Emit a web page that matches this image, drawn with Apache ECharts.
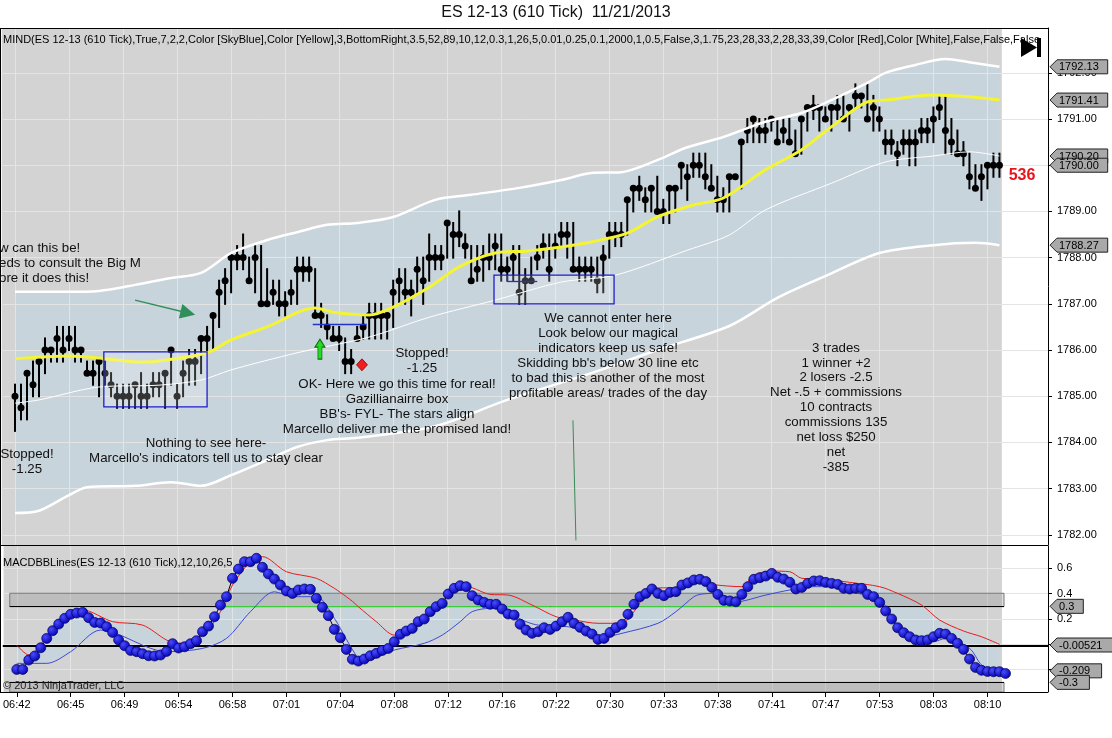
<!DOCTYPE html>
<html><head><meta charset="utf-8">
<script src="https://cdn.jsdelivr.net/npm/echarts@6/dist/echarts.min.js"></script>
<style>html,body{margin:0;padding:0;background:#fff}#c{width:1112px;height:738px}</style>
</head><body><div id="c"></div>
<script>
// ---------------- DATA ----------------
const timeLabels = ['06:42','06:45','06:49','06:54','06:58','07:01','07:04','07:08','07:12','07:16','07:22','07:30','07:33','07:38','07:41','07:47','07:53','08:03','08:10'];

const closes = [
1785.00,1784.75,1785.50,1785.25,1785.75,1786.00,1786.00,1786.25,1786.00,1786.25,
1786.00,1786.00,1785.50,1785.50,1785.75,1785.50,1785.25,1785.00,1785.00,1785.00,
1785.25,1785.00,1785.00,1785.25,1785.25,1785.50,1786.00,1785.00,1785.50,1785.75,
1785.75,1786.25,1786.25,1786.75,1787.25,1787.50,1788.00,1788.00,1788.00,1787.50,
1788.00,1787.00,1787.00,1787.25,1787.00,1787.00,1787.25,1787.75,1787.75,1787.75,
1786.75,1786.75,1786.50,1786.25,1786.25,1785.75,1785.75,1786.25,1786.50,1786.75,
1786.75,1786.75,1786.75,1787.25,1787.50,1787.25,1787.25,1787.75,1787.50,1788.00,
1788.00,1788.00,1788.75,1788.50,1788.50,1788.25,1787.50,1787.75,1788.00,1788.00,
1788.25,1787.75,1787.75,1788.00,1787.25,1787.50,1787.50,1788.00,1788.25,1787.75,
1788.25,1788.50,1788.50,1787.75,1787.75,1787.75,1787.75,1787.50,1788.00,1788.50,
1788.50,1788.50,1789.25,1789.50,1789.50,1789.25,1789.50,1789.00,1789.00,1789.50,
1789.50,1790.00,1789.75,1790.00,1790.00,1789.75,1789.50,1789.25,1789.25,1789.75,
1789.75,1790.50,1790.75,1791.00,1790.75,1790.75,1791.00,1790.50,1790.75,1790.50,
1790.25,1791.00,1791.25,1791.25,1791.25,1791.00,1791.25,1791.25,1791.00,1791.25,
1791.50,1791.50,1791.00,1791.25,1791.00,1790.50,1790.50,1790.25,1790.50,1790.50,
1790.50,1790.75,1790.75,1791.00,1791.25,1790.75,1790.50,1790.25,1790.25,1789.75,
1789.50,1789.75,1790.00,1790.00,1790.00];

const highs = [
1785.25,1785.25,1785.50,1785.75,1785.75,1786.25,1786.00,1786.50,1786.50,1786.50,
1786.50,1786.00,1785.75,1785.75,1785.75,1785.75,1785.50,1785.25,1785.25,1785.25,
1785.25,1785.50,1785.25,1785.50,1785.50,1785.50,1786.00,1785.25,1785.75,1786.00,
1786.00,1786.25,1786.50,1786.75,1787.50,1787.75,1788.00,1788.25,1788.50,1788.00,
1788.25,1788.25,1787.75,1787.50,1787.50,1787.25,1787.50,1788.00,1788.00,1788.00,
1787.75,1787.00,1786.75,1786.50,1786.50,1786.25,1786.00,1786.50,1786.75,1787.00,
1787.00,1787.00,1786.75,1787.50,1787.75,1787.75,1787.50,1788.00,1788.00,1788.50,
1788.25,1788.25,1788.75,1788.75,1789.00,1788.50,1788.25,1788.25,1788.25,1788.50,
1788.50,1788.50,1788.00,1788.25,1788.25,1787.75,1788.00,1788.25,1788.50,1788.50,
1788.50,1788.75,1788.75,1788.75,1788.00,1788.00,1788.00,1788.00,1788.25,1788.75,
1788.75,1788.75,1789.25,1789.50,1789.75,1789.50,1789.50,1789.75,1789.25,1789.50,
1789.50,1790.00,1790.00,1790.25,1790.25,1790.25,1790.00,1789.75,1789.50,1789.75,
1789.75,1790.50,1791.00,1791.00,1791.00,1791.00,1791.00,1791.00,1791.00,1791.00,
1790.75,1791.00,1791.25,1791.50,1791.25,1791.25,1791.25,1791.50,1791.50,1791.25,
1791.75,1791.50,1791.75,1791.50,1791.25,1790.75,1790.75,1790.50,1790.75,1790.75,
1790.75,1791.00,1791.00,1791.25,1791.50,1791.50,1791.00,1790.75,1790.50,1790.25,
1790.00,1790.00,1790.00,1790.25,1790.25];

const lows = [
1784.25,1784.50,1784.50,1785.00,1785.00,1785.50,1785.75,1785.75,1785.75,1786.00,
1785.75,1785.75,1785.50,1785.25,1785.00,1785.25,1785.00,1784.75,1784.75,1784.75,
1784.75,1784.75,1784.75,1785.00,1785.00,1784.75,1785.25,1784.75,1785.00,1785.25,
1785.25,1785.50,1786.00,1786.00,1786.50,1787.00,1787.25,1787.75,1787.75,1787.50,
1787.25,1787.00,1787.00,1787.00,1786.75,1786.75,1787.00,1787.00,1787.50,1787.50,
1786.75,1786.50,1786.25,1786.25,1786.00,1785.50,1785.50,1786.25,1786.25,1786.25,
1786.25,1786.25,1786.25,1786.50,1787.00,1787.00,1786.75,1787.25,1787.00,1787.50,
1787.75,1787.75,1788.00,1788.00,1788.25,1788.00,1787.50,1787.50,1787.50,1787.75,
1787.75,1787.50,1787.50,1787.50,1787.00,1787.00,1787.50,1787.75,1788.00,1787.50,
1788.00,1788.25,1788.00,1787.75,1787.50,1787.50,1787.50,1787.25,1787.25,1788.00,
1788.25,1788.25,1788.50,1789.00,1789.25,1789.00,1789.00,1789.00,1788.75,1788.75,
1789.00,1789.50,1789.25,1789.75,1789.75,1789.50,1789.50,1789.00,1789.00,1789.00,
1789.75,1789.50,1790.50,1790.50,1790.50,1790.50,1790.75,1790.50,1790.50,1790.50,
1790.25,1790.25,1790.75,1791.00,1790.75,1791.00,1790.75,1791.00,1791.00,1790.75,
1791.25,1791.25,1791.00,1790.75,1790.75,1790.25,1790.25,1790.00,1790.25,1790.00,
1790.00,1790.50,1790.50,1790.50,1791.00,1790.25,1790.25,1790.25,1790.00,1789.50,
1789.50,1789.25,1789.50,1789.75,1789.75];

// Bollinger-style bands: [bar, price]
const bbUpper = [[0,1787.26],[8,1787.26],[14,1787.28],[20,1787.41],[26,1787.56],[31,1787.67],[36,1788.10],[42,1788.38],[47,1788.55],[52,1788.71],[57,1788.75],[63,1788.88],[70,1789.25],[76,1789.36],[84,1789.51],[91,1789.68],[96,1789.83],[101,1789.85],[107,1790.11],[112,1790.39],[118,1790.61],[125,1790.94],[131,1791.13],[136,1791.41],[142,1791.78],[145,1792.00],[150,1792.17],[155,1792.30],[159,1792.23],[164,1792.13]];
const bbLower = [[0,1782.47],[4,1782.52],[9,1782.86],[12,1783.03],[20,1783.06],[26,1783.14],[31,1783.06],[36,1783.29],[42,1783.62],[47,1783.90],[52,1784.05],[57,1784.10],[70,1784.35],[82,1784.92],[96,1785.50],[107,1786.00],[119,1786.52],[127,1787.13],[135,1787.60],[144,1788.10],[153,1788.27],[160,1788.32],[164,1788.27]];
const bbInner = [[0,1784.85],[4,1784.92],[14,1785.20],[24,1785.24],[31,1785.35],[36,1785.57],[47,1785.94],[59,1786.28],[69,1786.71],[80,1787.08],[91,1787.47],[100,1787.62],[112,1788.16],[119,1788.49],[125,1789.03],[136,1789.61],[145,1790.07],[153,1790.20],[159,1790.29],[164,1790.20]];
const bbMid = [[0,1785.81],[9,1785.87],[14,1785.83],[21,1785.74],[25,1785.78],[32,1785.94],[36,1786.22],[42,1786.50],[50,1786.91],[53,1786.82],[59,1786.76],[63,1786.93],[69,1787.36],[74,1787.80],[80,1788.10],[85,1788.14],[91,1788.23],[96,1788.34],[102,1788.53],[107,1788.88],[113,1789.14],[118,1789.29],[125,1789.90],[131,1790.33],[136,1790.83],[142,1791.37],[145,1791.41],[153,1791.52],[159,1791.48],[164,1791.41]];

// MACD panel
const macd = [
-0.198,-0.198,-0.124,-0.092,-0.027,0.047,0.108,0.160,0.205,0.237,
0.247,0.252,0.210,0.173,0.168,0.139,0.094,0.034,-0.011,-0.048,
-0.058,-0.074,-0.090,-0.092,-0.084,-0.056,0.005,-0.029,-0.019,0.005,
0.029,0.100,0.144,0.218,0.310,0.376,0.521,0.594,0.652,0.652,
0.679,0.608,0.555,0.515,0.468,0.421,0.402,0.429,0.437,0.434,
0.363,0.292,0.226,0.118,0.052,-0.040,-0.118,-0.132,-0.116,-0.090,
-0.071,-0.048,-0.032,0.021,0.079,0.105,0.126,0.179,0.200,0.258,
0.297,0.323,0.397,0.442,0.463,0.455,0.384,0.350,0.331,0.316,
0.316,0.279,0.239,0.231,0.158,0.113,0.087,0.100,0.131,0.118,
0.144,0.179,0.213,0.166,0.134,0.105,0.081,0.039,0.047,0.094,
0.131,0.158,0.237,0.316,0.376,0.402,0.437,0.402,0.384,0.410,
0.416,0.468,0.485,0.508,0.513,0.495,0.449,0.394,0.347,0.342,
0.336,0.394,0.455,0.513,0.526,0.539,0.560,0.529,0.515,0.489,
0.437,0.449,0.481,0.500,0.502,0.489,0.481,0.473,0.442,0.437,
0.442,0.442,0.394,0.376,0.331,0.263,0.200,0.131,0.092,0.060,
0.034,0.029,0.034,0.060,0.087,0.081,0.047,0.008,-0.040,-0.116,
-0.182,-0.205,-0.214,-0.216,-0.216,-0.230];
const macdRed = [[0,-0.006],[2,-0.084],[5,0.06],[8,0.215],[11,0.271],[16,0.179],[21,0.152],[25,0.034],[27,0.008],[31,0.073],[34,0.258],[36,0.468],[39,0.652],[41,0.692],[45,0.573],[50,0.521],[53,0.442],[54,0.41],[56,0.34],[57,0.297],[60,0.179],[63,0.073],[64,0.08],[67,0.19],[71,0.336],[74,0.473],[76,0.447],[79,0.394],[82,0.389],[86,0.31],[90,0.218],[93,0.192],[97,0.166],[101,0.166],[103,0.258],[106,0.442],[110,0.45],[112,0.50],[114,0.50],[116,0.473],[121,0.455],[123,0.547],[126,0.578],[129,0.573],[131,0.521],[135,0.513],[139,0.489],[144,0.455],[147,0.402],[151,0.310],[154,0.192],[158,0.105],[161,0.060],[164,0.000]];
const macdBlue = [[0,-0.15],[1,-0.15],[5,-0.15],[9,-0.058],[14,0.113],[25,-0.058],[31,-0.032],[35,0.047],[39,0.258],[43,0.415],[46,0.376],[50,0.376],[53,0.205],[55,0.04],[57,-0.11],[58,-0.13],[63,-0.045],[68,0.008],[71,0.073],[74,0.179],[76,0.258],[79,0.284],[81,0.271],[85,0.179],[87,0.152],[92,0.139],[94,0.113],[98,0.060],[101,0.087],[107,0.166],[110,0.258],[113,0.376],[114,0.394],[116,0.402],[120,0.336],[125,0.389],[129,0.429],[133,0.455],[136,0.455],[139,0.416],[144,0.350],[147,0.152],[150,0.034],[153,0.021],[155,0.047],[159,-0.032],[161,-0.163],[163,-0.211],[164,-0.216]];

const priceTicks = [1782,1783,1784,1785,1786,1787,1788,1789,1790,1791,1792];
const macdTicks = [-0.2,0,0.2,0.4,0.6];
const priceTags = [1792.13,1791.41,1790.20,1790.00,1788.27];
const macdTags = [0.3,-0.00521,-0.209,-0.3];

// ---------------- CHART ----------------
const FONT = "'Liberation Sans', Arial, sans-serif";
const X_MIN = -2.332, X_MAX = 172.09;
const tickIdx = timeLabels.map((_, k) => k * 9);
const GRID_CLR = '#e4e4e4';
const FILL_CLR = '#c8d4dc';

const chart = echarts.init(document.getElementById('c'), null, {renderer:'canvas', width:1112, height:738});

function xAx(gi, showLabels) {
  return {
    type:'value', gridIndex:gi, min:X_MIN, max:X_MAX, z:3,
    axisLine:{show:false, onZero:false},
    axisTick:{show:showLabels, customValues:tickIdx, length:5, lineStyle:{color:'#000'}},
    axisLabel:{show:showLabels, customValues:tickIdx, formatter:v=>timeLabels[Math.round(v/9)] || '', fontSize:11, color:'#000', fontFamily:FONT, margin:7},
    splitLine:{show:false}
  };
}
function yAx(gi, min, max, ticks, fmt) {
  return {
    type:'value', gridIndex:gi, position:'right', min, max, z:3,
    axisLine:{show:true, onZero:false, lineStyle:{color:'#000', width:1}},
    axisTick:{show:true, customValues:ticks, length:4, lineStyle:{color:'#000'}},
    axisLabel:{customValues:ticks, formatter:fmt, fontSize:11, color:'#000', fontFamily:FONT, margin:9},
    splitLine:{show:false}
  };
}
function bgSeries(gi) {
  return {type:'line', xAxisIndex:gi, yAxisIndex:gi, data:[], z:1, silent:true,
    markArea:{silent:true, z:1, itemStyle:{color:'#d3d3d3'}, data:[[{xAxis:-2.2},{xAxis:164.4}]]}};
}
function gridSeries(gi, hVals) {
  return {type:'line', xAxisIndex:gi, yAxisIndex:gi, data:[], z:3, silent:true,
    markLine:{silent:true, z:3, symbol:['none','none'], label:{show:false},
      lineStyle:{color:GRID_CLR, width:1, type:'solid'},
      data: tickIdx.map(v=>({xAxis:v})).concat(hVals.map(v=>({yAxis:v})))}};
}
function polySeries(gi, upper, lower, y0) {
  return {type:'custom', xAxisIndex:gi, yAxisIndex:gi, z:2, silent:true, data:[[0, y0]],
    renderItem:(params, api) => {
      const pts = upper.map(p => api.coord(p)).concat(lower.slice().reverse().map(p => api.coord(p)));
      return {type:'polygon', shape:{points:pts}, style:{fill:FILL_CLR}};
    }};
}
function bandLine(data, color, width, z) {
  return {type:'line', xAxisIndex:0, yAxisIndex:0, data, smooth:0.3, symbol:'none', z, silent:true,
    lineStyle:{color, width}};
}

const barData = closes.map((c, i) => [i, lows[i], highs[i], c]);

const option = {
  animation:false,
  textStyle:{fontFamily:FONT},
  grid:[
    {left:1, right:64, top:28, height:517, show:true, backgroundColor:'#fff', borderWidth:0},
    {left:1, right:64, top:546, height:146, show:true, backgroundColor:'#fff', borderWidth:0}
  ],
  xAxis:[xAx(0,false), xAx(1,true)],
  yAxis:[
    yAx(0, 1781.78, 1792.97, priceTicks, v=>v.toFixed(2)),
    yAx(1, -0.376, 0.776, macdTicks, v=>String(Math.round(v*10)/10))
  ],
  series:[
    bgSeries(0), bgSeries(1),
    polySeries(0, bbUpper, bbLower, 1786),
    polySeries(1, macdRed, macdBlue, 0),
    gridSeries(0, priceTicks), gridSeries(1, macdTicks),
    // MACD reference bands/lines
    {type:'line', xAxisIndex:1, yAxisIndex:1, data:[], z:4, silent:true,
      markArea:{silent:true, z:4, itemStyle:{color:'rgba(140,140,140,0.3)', borderColor:'rgba(110,110,110,0.9)', borderWidth:1},
        data:[[{xAxis:-1.17, yAxis:0.403},{xAxis:164.75, yAxis:0.297}],[{xAxis:-1.17, yAxis:-0.3},{xAxis:164.75, yAxis:-0.376}]]},
      markLine:{silent:true, z:4, symbol:['none','none'], label:{show:false},
        data:[
          {yAxis:-0.00521, lineStyle:{color:'#000', width:2, type:'solid'}},
          [{coord:[-1.17,0.297], lineStyle:{color:'#000', width:1.2, type:'solid'}},{coord:[164.75,0.297]}],
          [{coord:[-1.17,-0.3], lineStyle:{color:'#000', width:1.2, type:'solid'}},{coord:[164.75,-0.3]}],
          [{coord:[34.1,0.297], lineStyle:{color:'#3ccc3c', width:1, type:'solid'}},{coord:[144.1,0.297]}]
        ]}},
    // HiLo bars with close dots
    {type:'custom', xAxisIndex:0, yAxisIndex:0, z:4, silent:true, data:barData,
      encode:{x:0, y:[1,2,3]},
      renderItem:(params, api) => {
        const i = api.value(0);
        const lo = api.coord([i, api.value(1)]);
        const hi = api.coord([i, api.value(2)]);
        const c = api.coord([i, api.value(3)]);
        return {type:'group', children:[
          {type:'line', shape:{x1:lo[0], y1:lo[1]+1, x2:hi[0], y2:hi[1]-1}, style:{stroke:'#000', lineWidth:2}},
          {type:'circle', shape:{cx:c[0], cy:c[1], r:3.5}, style:{fill:'#000'}}
        ]};
      }},
    bandLine(bbUpper, '#ffffff', 2.5, 5),
    bandLine(bbLower, '#ffffff', 2.5, 5),
    bandLine(bbInner, '#ffffff', 1, 5),
    bandLine(bbMid, '#f4f430', 3, 5),
    {type:'line', xAxisIndex:1, yAxisIndex:1, data:macdRed, smooth:0.3, symbol:'none', z:5, silent:true, lineStyle:{color:'#e81c1c', width:1}},
    {type:'line', xAxisIndex:1, yAxisIndex:1, data:macdBlue, smooth:0.3, symbol:'none', z:5, silent:true, lineStyle:{color:'#3a4ad6', width:1}},
    {type:'line', xAxisIndex:1, yAxisIndex:1, z:6, silent:true,
      data:macd.map((v,i)=>[i,v]), symbol:'circle', symbolSize:10, showAllSymbol:true,
      lineStyle:{color:'#000', width:1},
      itemStyle:{color:{type:'radial', x:0.35, y:0.35, r:0.7, colorStops:[{offset:0,color:'#4a4aff'},{offset:1,color:'#0000b0'}]}, borderColor:'#00005a', borderWidth:0.7}},
    // Drawing objects on the price panel
    {type:'line', xAxisIndex:0, yAxisIndex:0, data:[], z:7, silent:true,
      markArea:{silent:true, z:7,
        itemStyle:{color:'rgba(255,255,255,0.2)', borderColor:'#1d1dcc', borderWidth:1.3},
        data:[[{xAxis:14.8, yAxis:1785.96},{xAxis:32.0, yAxis:1784.77}],[{xAxis:79.8, yAxis:1787.62},{xAxis:99.8, yAxis:1787.0}]]},
      markLine:{silent:true, z:7, symbol:['none','none'], label:{show:false},
        data:[
          [{coord:[20.0,1787.08], lineStyle:{color:'#2f8f5b', width:1.5, type:'solid'}},{coord:[28.8,1786.80], symbol:'triangle', symbolSize:15}],
          [{coord:[92.95,1784.48], lineStyle:{color:'#3a8a5a', width:1, type:'solid'}},{coord:[93.45,1781.88]}],
          [{coord:[49.6,1786.55], lineStyle:{color:'#2233cc', width:1.3, type:'solid'}},{coord:[58.6,1786.55]}],
          [{coord:[82.0,1787.49], lineStyle:{color:'#2233cc', width:1.3, type:'solid'}},{coord:[87.0,1787.49]}],
          [{coord:[82.0,1787.62], lineStyle:{color:'#2233cc', width:1.3, type:'solid'}},{coord:[82.0,1787.49]}]
        ]},
      markPoint:{silent:true, z:8, label:{show:false},
        data:[
          {coord:[50.8,1786.02], symbol:'path://M5,0L10,8L7,8L7,20L3,20L3,8L0,8Z', symbolSize:[10,20], itemStyle:{color:'#22dd22', borderColor:'#0a6a0a', borderWidth:1}},
          {coord:[57.8,1785.68], symbol:'diamond', symbolSize:[11,12], itemStyle:{color:'#ee2020', borderColor:'#880000', borderWidth:0.8}}
        ]}}
  ]
};
chart.setOption(option);

// ---------------- TEXT / FRAME / TAGS ----------------
const G = [];
function txt(text, x, y, font, align, color) {
  G.push({type:'text', z:100, silent:true, x, y,
    style:{text, font, fill:color || '#000', align:align || 'center', verticalAlign:'middle'}});
}
const NOTE = '13.3px ' + FONT;
const notes = [
  {x:-1, y:248, a:'left', lh:15, lines:['w can this be!','eds to consult the Big M','ore it does this!']},
  {x:27, y:454, lh:15, lines:['Stopped!','-1.25']},
  {x:206, y:443, lh:15, lines:['Nothing to see here-',"Marcello's indicators tell us to stay clear"]},
  {x:422, y:353, lh:15, lines:['Stopped!','-1.25']},
  {x:397, y:384, lh:15, lines:['OK- Here we go this time for real!','Gazillianairre box',"BB's- FYL- The stars align",'Marcello deliver me the promised land!']},
  {x:608, y:318, lh:15, lines:['We cannot enter here','Look below our magical','indicators keep us safe!',"Skidding bb's below 30 line etc",'to bad this is another of the most','profitable areas/ trades of the day']},
  {x:836, y:348, lh:14.9, lines:['3 trades','1 winner +2','2 losers -2.5','Net -.5 + commissions','10 contracts','commissions 135','net loss $250','net','-385']}
];
notes.forEach(n => n.lines.forEach((l, k) => txt(l, n.x, n.y + k * n.lh, NOTE, n.a || 'center', '#111')));

txt('ES 12-13 (610 Tick)  11/21/2013', 556, 13, '16px ' + FONT, 'center', '#111');
txt('MIND(ES 12-13 (610 Tick),True,7,2,2,Color [SkyBlue],Color [Yellow],3,BottomRight,3.5,52,89,10,12,0.3,1,26,5,0.01,0.25,0.1,2000,1,0.5,False,3,1.75,23,28,33,2,28,33,39,Color [Red],Color [White],False,False,False', 3, 40, '11px ' + FONT, 'left', '#000');
txt('MACDBBLines(ES 12-13 (610 Tick),12,10,26,5', 3, 563, '11px ' + FONT, 'left', '#000');
txt('\u00a9 2013 NinjaTrader, LLC', 3, 686, '11px ' + FONT, 'left', '#222');
txt('536', 1022, 176, 'bold 16px ' + FONT, 'center', '#e8141b');

// play/end icon
G.push({type:'polygon', z:100, silent:true, shape:{points:[[1021,38],[1021,57],[1037,47.5]]}, style:{fill:'#000'}});
G.push({type:'rect', z:100, silent:true, shape:{x:1037, y:38, width:4, height:19}, style:{fill:'#000'}});

// frame lines
function ln(x1,y1,x2,y2,w) { G.push({type:'line', z:90, silent:true, shape:{x1,y1,x2,y2}, style:{stroke:'#000', lineWidth:w||1}}); }
ln(0,28.5,1048,28.5);
ln(0.5,28,0.5,692);
ln(0,545.5,1048,545.5);
ln(0,692.5,1048,692.5);

// value tags on the right axis
function tag(y, label) {
  const w = label.length * 6.1 + 8;
  G.push({type:'polygon', z:110, silent:true,
    shape:{points:[[1050,y],[1057,y-7],[1057+w,y-7],[1057+w,y+7],[1057,y+7]]},
    style:{fill:'#a9a9a9', stroke:'#222', lineWidth:1}});
  G.push({type:'text', z:111, silent:true, x:1059, y:y+0.5,
    style:{text:label, font:'11px ' + FONT, fill:'#000', align:'left', verticalAlign:'middle'}});
}
priceTags.forEach(v => tag(chart.convertToPixel({yAxisIndex:0}, v), v.toFixed(2)));
macdTags.forEach(v => tag(chart.convertToPixel({yAxisIndex:1}, v), String(v)));

chart.setOption({graphic:{elements:G}});
</script>
</body></html>
